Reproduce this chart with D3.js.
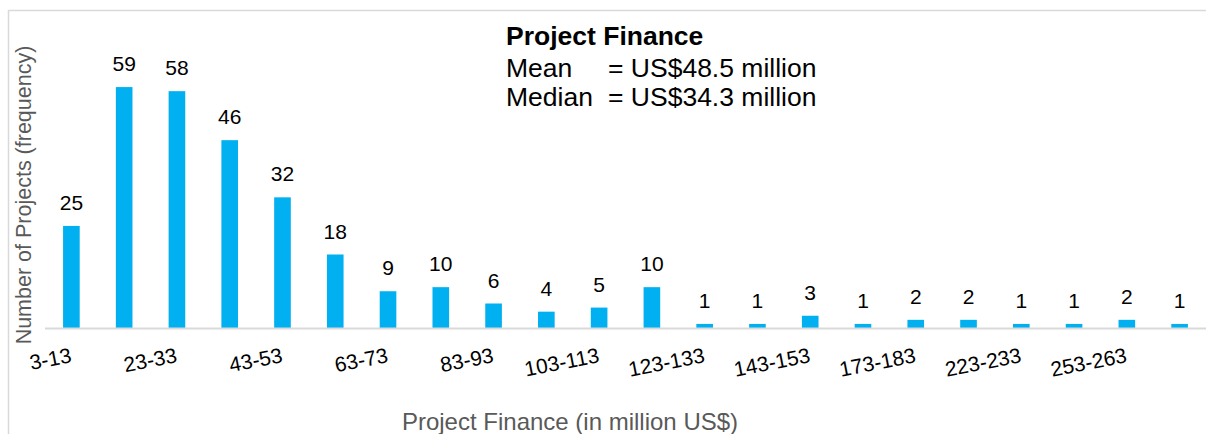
<!DOCTYPE html>
<html>
<head>
<meta charset="utf-8">
<script src="https://cdn.jsdelivr.net/npm/d3@7"></script>
<style>
  html, body { margin: 0; padding: 0; background: #fff; }
  svg { display: block; font-family: "Liberation Sans", Arial, sans-serif; }
</style>
</head>
<body>
<svg id="chart" width="1206" height="434"></svg>
<script>
const categories = ["3-13","13-23","23-33","33-43","43-53","53-63","63-73","73-83","83-93","93-103","103-113","113-123","123-133","133-143","143-153","163-173","173-183","193-203","223-233","243-253","253-263","283-293"];
const counts = [25,59,58,46,32,18,9,10,6,4,5,10,1,1,3,1,2,2,1,1,2,1];
const shownTickLabels = ["3-13","23-33","43-53","63-73","83-93","103-113","123-133","143-153","173-183","223-233","253-263"];
const titleText = "Project Finance";
const statLabels = ["Mean", "Median"];
const statValues = ["= US$48.5 million", "= US$34.3 million"];
const xTitle = "Project Finance (in million US$)";
const yTitle = "Number of Projects (frequency)";

const svg = d3.select("#chart");
const W = 1206, H = 434;
const plot = { left: 45, right: 1206, top: 83, bottom: 328 };

// frame lines
svg.append("line").attr("x1", 8.5).attr("x2", 8.5).attr("y1", 10).attr("y2", H)
  .attr("stroke", "#d9d9d9").attr("stroke-width", 1.5);
svg.append("line").attr("x1", 8).attr("x2", W).attr("y1", 10.5).attr("y2", 10.5)
  .attr("stroke", "#d9d9d9").attr("stroke-width", 1.5);

const x = d3.scaleBand().domain(categories).range([plot.left, plot.right])
  .paddingInner(0.685).paddingOuter(0.3425);
const y = d3.scaleLinear().domain([0, 60]).range([plot.bottom, plot.top]);

// bars
svg.append("g").selectAll("rect").data(counts).join("rect")
  .attr("x", (d, i) => x(categories[i]))
  .attr("width", x.bandwidth())
  .attr("y", d => y(d))
  .attr("height", d => y(0) - y(d))
  .attr("fill", "#00b0f0");

// value labels
svg.append("g").selectAll("text").data(counts).join("text")
  .attr("x", (d, i) => x(categories[i]) + x.bandwidth() / 2)
  .attr("y", d => y(d) - 16)
  .attr("text-anchor", "middle")
  .attr("font-size", 21)
  .attr("fill", "#000")
  .text(d => d);

// x axis
const xAxis = d3.axisBottom(x).tickValues(shownTickLabels).tickSize(0).tickPadding(0);
const gx = svg.append("g").attr("transform", `translate(0,${plot.bottom})`).call(xAxis);
gx.select(".domain").remove();
gx.selectAll(".tick text")
  .attr("font-size", 21)
  .attr("font-family", "Liberation Sans, Arial, sans-serif")
  .attr("fill", "#000")
  .attr("text-anchor", "end")
  .attr("dy", null)
  .attr("y", 0)
  .attr("transform", "translate(1,34) rotate(-11)");

svg.append("line").attr("x1", plot.left).attr("x2", plot.right)
  .attr("y1", y(0) + 0.5).attr("y2", y(0) + 0.5)
  .attr("stroke", "#d9d9d9").attr("stroke-width", 2);

// axis titles
svg.append("text")
  .attr("x", 570).attr("y", 430)
  .attr("text-anchor", "middle")
  .attr("font-size", 24)
  .attr("fill", "#595959")
  .text(xTitle);

svg.append("text")
  .attr("transform", "translate(31,195) rotate(-90)")
  .attr("text-anchor", "middle")
  .attr("font-size", 21.5)
  .attr("fill", "#595959")
  .text(yTitle);

// annotation
svg.append("text")
  .attr("x", 506).attr("y", 45)
  .attr("font-size", 26.5)
  .attr("font-weight", "bold")
  .attr("fill", "#000")
  .text(titleText);

const statY = [77, 106];
statLabels.forEach((lab, i) => {
  svg.append("text").attr("x", 506).attr("y", statY[i])
    .attr("font-size", 26.5).attr("fill", "#000").text(lab);
  svg.append("text").attr("x", 608).attr("y", statY[i])
    .attr("font-size", 26.5).attr("fill", "#000").text(statValues[i]);
});
</script>
</body>
</html>
